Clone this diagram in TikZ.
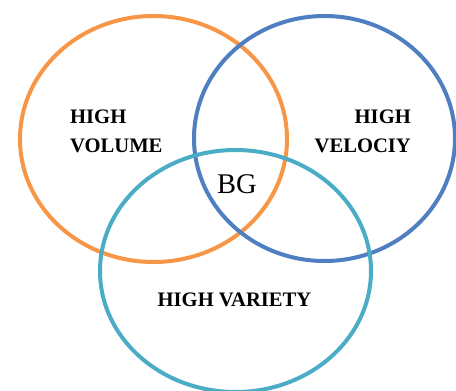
\documentclass[tikz,border=0pt]{standalone}
\usepackage{fontspec}
\setmainfont{Liberation Serif}
\definecolor{vorange}{HTML}{F79646}
\definecolor{vblue}{HTML}{4F7FC0}
\definecolor{vteal}{HTML}{4BACC6}
\begin{document}
\begin{tikzpicture}[x=1pt,y=-1pt,
  ring/.style={line width=4pt},
  lbl/.style={inner sep=0pt,font=\bfseries\fontsize{20.6}{24}\selectfont},
  core/.style={inner sep=0pt,font=\fontsize{28.5}{32}\selectfont}]
\useasboundingbox (0,0) rectangle (456,391);
\begin{scope}
\clip (0,0) rectangle (456,391);
% three overlapping sets
\draw[ring,vorange] (153.5,139) ellipse [x radius=133.5, y radius=123];
\draw[ring,vblue] (324.5,138.5) ellipse [x radius=130.5, y radius=122.5];
\draw[ring,vteal] (235.5,271) ellipse [x radius=135.5, y radius=121];
\end{scope}
% labels
\node[lbl,anchor=base west] (vol1) at (70,123) {HIGH};
\node[lbl,anchor=base west] (vol2) at (70,152) {VOLUME};
\node[lbl,anchor=base east] (vel1) at (411,123) {HIGH};
\node[lbl,anchor=base east] (vel2) at (411,152) {VELOCIY};
\node[lbl,anchor=base] (var) at (234.5,306) {HIGH VARIETY};
\node[core,anchor=base] (bg) at (237,193) {BG};
\end{tikzpicture}
\end{document}
